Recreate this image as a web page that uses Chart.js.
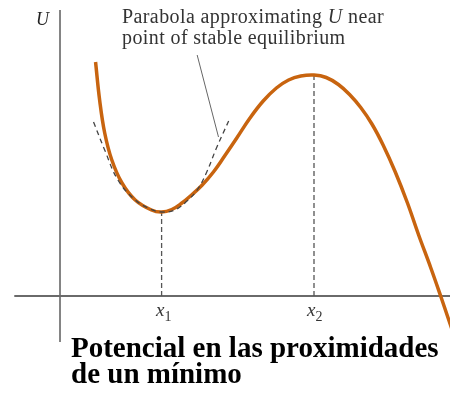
<!DOCTYPE html>
<html>
<head>
<meta charset="utf-8">
<script src="https://cdn.jsdelivr.net/npm/chart.js@4/dist/chart.umd.min.js"></script>
<style>
html,body{margin:0;padding:0;background:#fff;}
#wrap{position:relative;width:450px;height:396px;overflow:hidden;}
#c{position:absolute;left:0;top:0;}
.t{position:absolute;font-family:"Liberation Serif","Times New Roman",serif;color:#222;white-space:nowrap;}
.u{left:36px;top:10px;font-size:18px;line-height:18px;font-style:italic;}
.cap{left:122px;top:6px;font-size:20px;line-height:21px;letter-spacing:0.4px;color:#333;}
.xl{top:300px;font-size:19px;line-height:19px;color:#333;}
.xl i{font-style:italic;}
.xl sub{font-size:14px;vertical-align:-5px;line-height:0;}
.ttl{left:71px;top:334px;font-size:29px;line-height:26px;font-weight:bold;color:#000;}
</style>
</head>
<body>
<div id="wrap">
  <canvas id="c" width="450" height="396"></canvas>
  <div class="t u">U</div>
  <div class="t cap">Parabola approximating <i>U</i> near<br>point of stable equilibrium</div>
  <div class="t xl" style="left:156px"><i>x</i><sub>1</sub></div>
  <div class="t xl" style="left:307px"><i>x</i><sub>2</sub></div>
  <div class="t ttl">Potencial en las proximidades<br>de un mínimo</div>
</div>
<script>
// potential energy curve U(x)
var curveX=[0.35,0.39,0.44,0.51,0.61,0.74,0.90,1.00,1.10,1.20,1.30,1.40,1.51,1.62,1.74,1.87,2.00,2.13,2.25,2.37,2.50,2.62,2.74,2.85,2.96,3.07,3.18,3.30,3.42,3.53,3.65,3.75,3.82,3.88];
var curveU=[2.34,1.96,1.63,1.36,1.13,0.96,0.86,0.84,0.865,0.93,1.015,1.11,1.24,1.40,1.58,1.78,1.95,2.08,2.16,2.20,2.21,2.185,2.115,2.015,1.885,1.72,1.51,1.24,0.93,0.61,0.28,-0.01,-0.22,-0.40];

// parabola fitted around the minimum
var parX=[0.33,0.44,0.57,0.74,0.89,1.00,1.13,1.25,1.35,1.44,1.54,1.66];
var parU=[1.74,1.46,1.16,0.96,0.87,0.84,0.86,0.95,1.06,1.23,1.48,1.75];

// equilibrium points
var eqX=[1.0,2.5];
var eqU=[0.84,2.21];

// axes and leader line
var axisX=[-0.45,3.90];
var axisU=[-0.46,2.86];
var leadX=[1.35,1.56];
var leadU=[2.41,1.59];

function pts(xs,ys){
  return xs.map(function(x,i){return{x:x,y:ys[i]};});
}

function lineDs(data,color,width,dash,order,tension){
  return{
    data:data,
    showLine:true,
    borderColor:color,
    borderWidth:width,
    borderDash:dash||[],
    pointRadius:0,
    fill:false,
    tension:tension||0,
    order:order
  };
}

var ds=[];
ds.push(lineDs(pts(parX,parU),"#444",1.3,[5,4],0,0.4));
ds.push(lineDs(pts(curveX,curveU),"#c8640f",3.5,null,1,0.4));
eqX.forEach(function(x,i){
  ds.push(lineDs(pts([x,x],[0,eqU[i]]),"#555",1.3,[5,3],2));
});
ds.push(lineDs(pts(leadX,leadU),"#666",1,null,2));
ds.push(lineDs(pts(axisX,[0,0]),"#6a6a6a",2,null,3));
ds.push(lineDs(pts([0,0],axisU),"#333",1.2,null,3));

new Chart(document.getElementById("c"),{
  type:"scatter",
  data:{datasets:ds},
  options:{
    responsive:false,
    animation:false,
    devicePixelRatio:1,
    layout:{padding:0},
    plugins:{legend:{display:false},tooltip:{enabled:false}},
    scales:{
      x:{type:"linear",display:false,min:-0.5906,max:3.8386},
      y:{type:"linear",display:false,min:-1.00,max:2.96}
    }
  }
});
</script>
</body>
</html>
